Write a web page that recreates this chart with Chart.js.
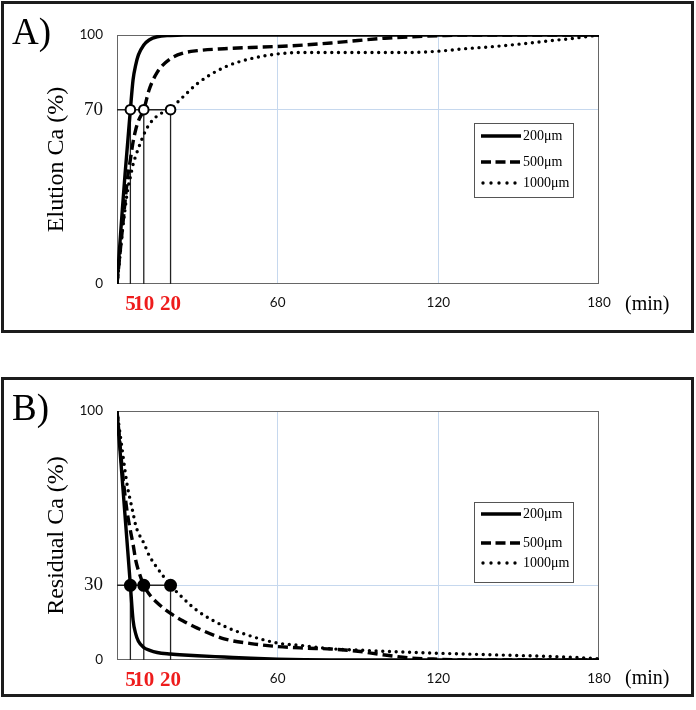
<!DOCTYPE html>
<html>
<head>
<meta charset="utf-8">
<script src="https://cdn.jsdelivr.net/npm/chart.js@4/dist/chart.umd.min.js"></script>
<style>
  html,body{margin:0;padding:0;background:#fff;overflow:hidden;}
  body{width:696px;height:710px;position:relative;}
  .box{position:absolute;box-sizing:border-box;border:3px solid #1c1c1c;pointer-events:none;}
  canvas{position:absolute;left:0;}
  .lbl{position:absolute;font-family:"Liberation Serif","Times New Roman",serif;color:#000;white-space:nowrap;}
  .panel{font-size:37px;line-height:37px;}
  .unit{font-size:20px;line-height:20px;}
  .legend{position:absolute;box-sizing:border-box;border:1px solid #555;background:#fff;}
  .row{position:absolute;left:6px;height:14px;display:flex;align-items:center;}
  .row span{font-family:"Liberation Serif","Times New Roman",serif;font-size:14px;margin-left:2px;color:#000;}
</style>
</head>
<body>
<canvas id="cA" width="696" height="330" style="top:0px"></canvas>
<canvas id="cB" width="696" height="330" style="top:376px"></canvas>
<div class="box" style="left:1px;top:1px;width:693px;height:332px"></div>
<div class="box" style="left:1px;top:377px;width:693px;height:320px"></div>

<div class="lbl panel" style="left:12px;top:13px">A)</div>
<div class="lbl panel" style="left:12px;top:389px">B)</div>
<div class="lbl unit" style="left:625px;top:293px">(min)</div>
<div class="lbl unit" style="left:625px;top:667px">(min)</div>

<div class="legend" id="legA" style="left:474px;top:123px;width:100px;height:75px"></div>
<div class="legend" id="legB" style="left:474px;top:502px;width:100px;height:81px"></div>

<script>
// ---- data ----
const times = [0,1,2,3,4,5,6,7,8,10,12,15,20,25,30,40,50,60,70,80,90,100,110,120,130,140,150,160,170,180];

const elution200  = [0,15,30,44,57,70,82,88,92,96,98,99.3,99.8,100,100,100,100,100,100,100,100,100,100,100,100,100,100,100,100,100];
const elution500  = [0,11,22,33,43,50,57,62,65.5,70,78,85,90.5,92.8,93.7,94.5,95,95.4,96,96.8,97.8,98.7,99.3,99.7,100,100,100,100,100,100];
const elution1000 = [0,10,21,30,38,43,48,51.5,54.5,60,64,67.5,70.5,75.5,80.5,87,90.5,92.4,93,93,93,93,93,93.5,94.5,95.3,96.3,97.5,98.6,100];

const residual200  = [100,86,72,58,44,30,16,10.5,7.5,5,4,3,2.4,2,1.7,1.2,0.7,0.3,0.1,0,0,0,0,0,0,0,0,0,0,0];
const residual500  = [100,88,76,66,58,52,46.5,40,36,30,26.5,23,18.7,15.5,12.8,8.5,6.6,5.4,4.8,4.4,3.5,2,0.8,0.3,0,0,0,0,0,0];
const residual1000 = [100,92,84,76,69,64,59,54,51,47,42,37,30,24.5,19.8,13.6,9.6,6.8,5.7,4.5,4,3.5,3.1,2.7,2.4,2.1,1.8,1.5,1.1,0.5];

const seriesNames = ["200\u03bcm","500\u03bcm","1000\u03bcm"];
const markerTimes = [5,10,20];
const xTicks = [5,10,20,60,120,180];
const redTicks = [5,10,20];
const gridX = [60,120];
const levelA = 70;
const levelB = 30;
const yTicksA = [0,70,100];
const yTicksB = [0,30,100];

// ---- styles ----
const styles = [
  {borderDash:[], cap:'butt', width:3.4},
  {borderDash:[10,5], cap:'butt', width:3.4},
  {borderDash:[0,6.7], cap:'round', width:3.4}
];
const gridBlue = '#c6d8ee';
const serif = '"Liberation Serif","Times New Roman",serif';
const sans = 'Lato,"Liberation Sans",sans-serif';
const tv = c => (c && c.tick) ? c.tick.value : null;

const frame = {
  id:'frame',
  beforeDatasetsDraw(chart){
    const {ctx, chartArea:a} = chart;
    ctx.save();
    ctx.strokeStyle = '#666';
    ctx.lineWidth = 1;
    ctx.strokeRect(Math.round(a.left)+0.5, Math.round(a.top)+0.5, Math.round(a.right-a.left)-1, Math.round(a.bottom-a.top)-1);
    ctx.restore();
  }
};

function makeChart(id, seriesValues, level, yTicks, markerFill, yTitle){
  const datasets = [];
  seriesValues.forEach((vals, i) => {
    datasets.push({
      label: seriesNames[i],
      data: times.map((t, k) => ({x:t, y:vals[k]})),
      borderColor:'#000',
      borderWidth: styles[i].width,
      borderDash: styles[i].borderDash,
      borderCapStyle: styles[i].cap,
      pointRadius:0,
      cubicInterpolationMode:'monotone',
      fill:false,
      order:1
    });
  });
  markerTimes.forEach(t => {
    datasets.push({
      label:'drop',
      data:[{x:t,y:0},{x:t,y:level}],
      borderColor:'#222', borderWidth:1.3, pointRadius:0, order:3
    });
  });
  datasets.push({
    label:'level',
    data:[{x:0,y:level},{x:Math.max(...markerTimes),y:level}],
    borderColor:'#222', borderWidth:1.6, pointRadius:0, order:3
  });
  datasets.push({
    label:'markers',
    data: markerTimes.map(t => ({x:t, y:level})),
    showLine:false,
    pointRadius: markerFill === '#fff' ? 4.8 : 5.5,
    pointBorderWidth: 2,
    pointBackgroundColor: markerFill,
    pointBorderColor:'#000',
    order:0
  });

  return new Chart(document.getElementById(id), {
    type:'line',
    data:{datasets},
    plugins:[frame],
    options:{
      responsive:false,
      animation:false,
      events:[],
      layout:{padding:{top:35,right:97,left:0,bottom:0}},
      plugins:{legend:{display:false}, tooltip:{enabled:false}},
      scales:{
        x:{
          type:'linear', min:0, max:180,
          afterBuildTicks(s){ s.ticks = xTicks.map(v => ({value:v})); },
          afterFit(s){ s.height = 46; },
          border:{display:false},
          grid:{
            drawTicks:false,
            color: c => gridX.includes(tv(c)) ? gridBlue : 'rgba(0,0,0,0)',
            lineWidth:1
          },
          ticks:{
            autoSkip:false, maxRotation:0, minRotation:0, padding:8,
            callback: v => String(v),
            color: c => redTicks.includes(tv(c)) ? '#ee1c1c' : '#111',
            font: c => redTicks.includes(tv(c))
              ? {family:serif, size:21, weight:'bold', lineHeight:1.2}
              : {family:sans, size:13.5, lineHeight:1.55}
          }
        },
        y:{
          type:'linear', min:0, max:100,
          afterBuildTicks(s){ s.ticks = yTicks.map(v => ({value:v})); },
          afterFit(s){ s.width = 117; },
          border:{display:false},
          grid:{
            drawTicks:false,
            color: c => tv(c) === level ? gridBlue : 'rgba(0,0,0,0)',
            lineWidth:1
          },
          ticks:{
            padding:14,
            callback: v => String(v),
            color:'#111',
            font: c => tv(c) === level
              ? {family:serif, size:19}
              : {family:sans, size:13.5}
          },
          title:{
            display:true, text:yTitle, color:'#000',
            font:{family:serif, size:24, lineHeight:1.2},
            padding:{top:42, bottom:0}
          }
        }
      }
    }
  });
}

makeChart('cA', [elution200, elution500, elution1000], levelA, yTicksA, '#fff', 'Elution Ca (%)');
makeChart('cB', [residual200, residual500, residual1000], levelB, yTicksB, '#000', 'Residual Ca (%)');

// ---- HTML legends ----
function buildLegend(id, rowTops){
  const el = document.getElementById(id);
  const dash = ['', '10 4.5', '0 8'];
  const cap = ['butt','butt','round'];
  seriesNames.forEach((name, i) => {
    const row = document.createElement('div');
    row.className = 'row';
    row.style.top = rowTops[i] + 'px';
    row.innerHTML = '<svg width="40" height="8"><line x1="' + (i===2?2:0) + '" y1="4" x2="' + (i===2?38:40) + '" y2="4" stroke="#000" stroke-width="3.4" stroke-dasharray="' + dash[i] + '" stroke-linecap="' + cap[i] + '"/></svg><span>' + name + '</span>';
    el.appendChild(row);
  });
}
buildLegend('legA', [5, 31, 52]);
buildLegend('legB', [4, 33, 53]);
</script>
</body>
</html>
